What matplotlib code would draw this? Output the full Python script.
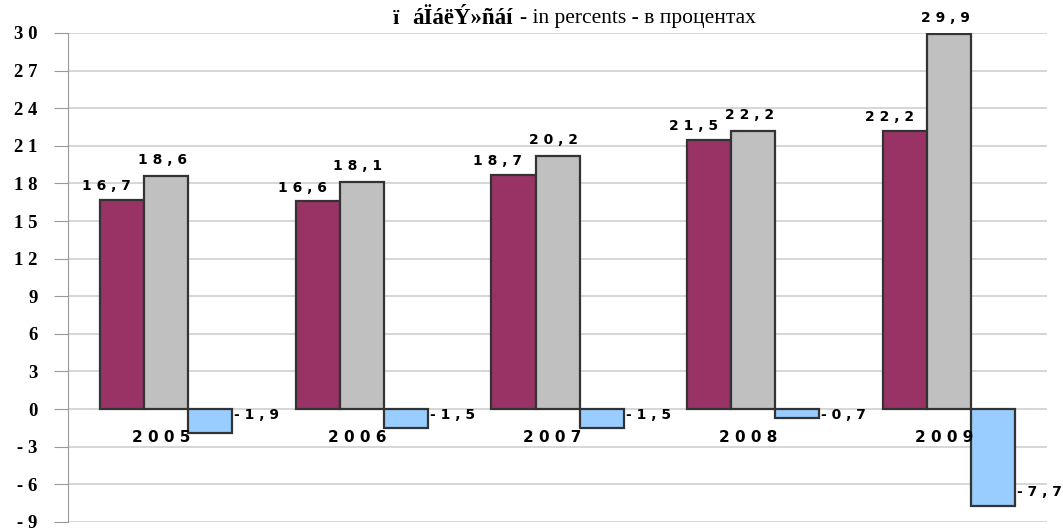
import matplotlib.pyplot as plt
import numpy as np

years = ['2005', '2006', '2007', '2008', '2009']
series_a = [16.7, 16.6, 18.7, 21.5, 22.2]
series_b = [18.6, 18.1, 20.2, 22.2, 29.9]
series_c = [-1.9, -1.5, -1.5, -0.7, -7.7]
colors = ['#993366', '#C0C0C0', '#99CCFF']
yticks = list(range(-9, 31, 3))


def spaced(v):
    # "16,7" -> "1 6 , 7" like the original
    s = '{:.1f}'.format(v).replace('.', ',')
    return ' '.join(s)


fig = plt.figure(figsize=(10.63, 5.31), dpi=100)
ax = fig.add_axes([0.064, 0.017, 0.921, 0.921])

x = np.arange(len(years))
w = 0.225
lab_font = dict(family='DejaVu Sans', fontweight='heavy', fontsize=10, color='black')

ax.bar(x - w, series_a, w, color=colors[0], edgecolor='#333333', linewidth=1.6, zorder=3)
ax.bar(x, series_b, w, color=colors[1], edgecolor='#333333', linewidth=1.6, zorder=3)
ax.bar(x + w, series_c, w, color=colors[2], edgecolor='#333333', linewidth=1.6, zorder=3)

for i in range(len(years)):
    ax.text(x[i] - w - 0.08, series_a[i] + 0.5, spaced(series_a[i]), ha='center', va='bottom', **lab_font)
    ax.text(x[i] - 0.02, series_b[i] + 0.7, spaced(series_b[i]), ha='center', va='bottom', **lab_font)
    yc = series_c[i] + 1.1 if series_c[i] < -3 else -0.45
    ax.text(x[i] + 1.5 * w + 0.01, yc, spaced(series_c[i]), ha='left', va='center', **lab_font)
    ax.text(x[i] - 0.025, -2.3, ' '.join(years[i]), ha='center', va='center', zorder=5,
            **dict(lab_font, fontsize=11))

ax.set_xlim(-0.5, len(years) - 0.5)
ax.set_ylim(-9, 30)
ax.set_yticks(yticks)
ax.set_yticklabels([' '.join(str(t)) for t in yticks], family='Liberation Serif',
                   fontweight='bold', fontsize=13.5)
ax.set_xticks([])
ax.grid(axis='y', color='#D0D0D0', linewidth=1.2, zorder=0)
ax.tick_params(axis='y', length=10, color='#999999', pad=12)
for side in ['top', 'right', 'bottom']:
    ax.spines[side].set_visible(False)
ax.spines['left'].set_color('#999999')

# title: garbled bold part, then normal part
fig.text(393 / 1063, 0.965, 'ï', family='Liberation Serif', fontweight='bold',
         fontsize=16, ha='left', va='center')
t1 = fig.text(412 / 1063, 0.965, 'áÏáëÝ»ñáí', family='Liberation Serif', fontweight='bold',
              fontsize=16.5, ha='left', va='center')
fig.canvas.draw()
bb = t1.get_window_extent()
fig.text((bb.x1 + 7) / 1063, 0.965, '- in percents - в процентах', family='Liberation Serif',
         fontsize=15.5, ha='left', va='center')

fig.savefig('out.png', dpi=100)
